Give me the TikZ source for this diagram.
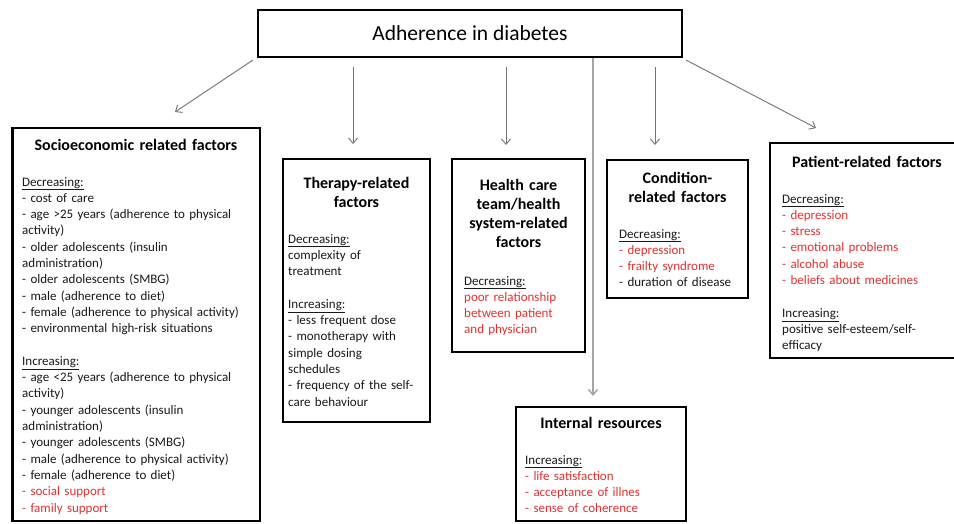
\documentclass[tikz,border=0pt]{standalone}
\usepackage{fontspec}
\setmainfont{Carlito}
\usetikzlibrary{arrows.meta}
\definecolor{factorred}{RGB}{228,48,48}
\definecolor{textgray}{RGB}{25,25,25}
\definecolor{arrowgray}{RGB}{115,115,115}
\definecolor{linegray}{RGB}{165,165,165}

\begin{document}
\begin{tikzpicture}
  [x=1pt,y=-1pt,
   factorbox/.style={draw,line width=2.6pt,fill=white,outer sep=0pt,inner sep=0pt,anchor=north west},
   heading/.style={font=\fontsize{16}{19}\selectfont\bfseries,align=center,text width=250pt,inner sep=0pt,anchor=base},
   body/.style={font=\fontsize{13}{16.3}\selectfont,text=textgray,align=left,text width=240pt,inner sep=0pt,anchor=base west},
   arrow/.style={draw=arrowgray,line width=0.9pt,-{Straight Barb[angle=80:7pt]}}]
  \clip (0,0) rectangle (954,523);
  \fill[white] (0,0) rectangle (954,523);

  % boxes
  \node[factorbox,anchor=center,minimum width=424pt,minimum height=47pt,
        font=\fontsize{21.5}{24}\selectfont] (main) at (470,33.5) {Adherence in diabetes};
  \node[factorbox,minimum width=247.5pt,minimum height=393pt] (socio) at (12.5,128) {};
  \node[factorbox,minimum width=147pt,minimum height=263pt] (therapy) at (283,159) {};
  \node[factorbox,minimum width=133pt,minimum height=193pt] (health) at (452,159) {};
  \node[factorbox,minimum width=141pt,minimum height=138pt] (condition) at (607,160) {};
  \node[factorbox,minimum width=200pt,minimum height=215pt] (patient) at (770,143) {};
  \node[factorbox,minimum width=170pt,minimum height=114pt] (internal) at (516,407) {};

  % headings
  \node[heading] (socio-h) at (136,150) {Socioeconomic related factors};
  \node[heading] (therapy-h) at (356.5,188) {Therapy-related\\factors};
  \node[heading] (health-h) at (518.5,190) {Health care\\team/health\\system-related\\factors};
  \node[heading] (condition-h) at (677.5,183) {Condition-\\related factors};
  \node[heading] (patient-h) at (867,167) {Patient-related factors};
  \node[heading] (internal-h) at (601,428) {Internal resources};

  % factor lists
  \node[body] (socio-b) at (22,186) {\underline{Decreasing:}\\
    - cost of care\\
    - age >25 years (adherence to physical\\
    activity)\\
    - older adolescents (insulin\\
    administration)\\
    - older adolescents (SMBG)\\
    - male (adherence to diet)\\
    - female (adherence to physical activity)\\
    - environmental high-risk situations\\[16.3pt]
    \underline{Increasing:}\\
    - age <25 years (adherence to physical\\
    activity)\\
    - younger adolescents (insulin\\
    administration)\\
    - younger adolescents (SMBG)\\
    - male (adherence to physical activity)\\
    - female (adherence to diet)\\
    \textcolor{factorred}{- social support}\\
    \textcolor{factorred}{- family support}};
  \node[body] (therapy-b) at (288,243) {\underline{Decreasing:}\\
    complexity of\\
    treatment\\[16.3pt]
    \underline{Increasing:}\\
    - less frequent dose\\
    - monotherapy with\\
    simple dosing\\
    schedules\\
    - frequency of the self-\\
    care behaviour};
  \node[body] (health-b) at (464,285) {\underline{Decreasing:}\\
    \textcolor{factorred}{poor relationship}\\
    \textcolor{factorred}{between patient}\\
    \textcolor{factorred}{and physician}};
  \node[body] (condition-b) at (619,238) {\underline{Decreasing:}\\
    \textcolor{factorred}{- depression}\\
    \textcolor{factorred}{- frailty syndrome}\\
    - duration of disease};
  \node[body] (patient-b) at (782,203) {\underline{Decreasing:}\\
    \textcolor{factorred}{- depression}\\
    \textcolor{factorred}{- stress}\\
    \textcolor{factorred}{- emotional problems}\\
    \textcolor{factorred}{- alcohol abuse}\\
    \textcolor{factorred}{- beliefs about medicines}\\[16.3pt]
    \underline{Increasing:}\\
    positive self-esteem/self-\\
    efficacy};
  \node[body] (internal-b) at (525,464) {\underline{Increasing:}\\
    \textcolor{factorred}{- life satisfaction}\\
    \textcolor{factorred}{- acceptance of illnes}\\
    \textcolor{factorred}{- sense of coherence}};

  % arrows
  \coordinate (main-1) at (253,60);
  \coordinate (main-2) at (353,67);
  \coordinate (main-3) at (506,67);
  \coordinate (main-4) at (593,57.5);
  \coordinate (main-5) at (655,67);
  \coordinate (main-6) at (686,60);
  \coordinate (socio-in) at (175,112);
  \coordinate (therapy-in) at (353,144);
  \coordinate (health-in) at (506,145);
  \coordinate (internal-in) at (593,396);
  \coordinate (condition-in) at (655,145);
  \coordinate (patient-in) at (816,128);
  \foreach \from/\to in {main-1/socio-in,main-2/therapy-in,main-3/health-in,main-5/condition-in,main-6/patient-in}
    \draw[arrow] (\from) -- (\to);
  \draw[arrow,draw=linegray,line width=1.5pt] (main-4) -- (internal-in);
\end{tikzpicture}
\end{document}
